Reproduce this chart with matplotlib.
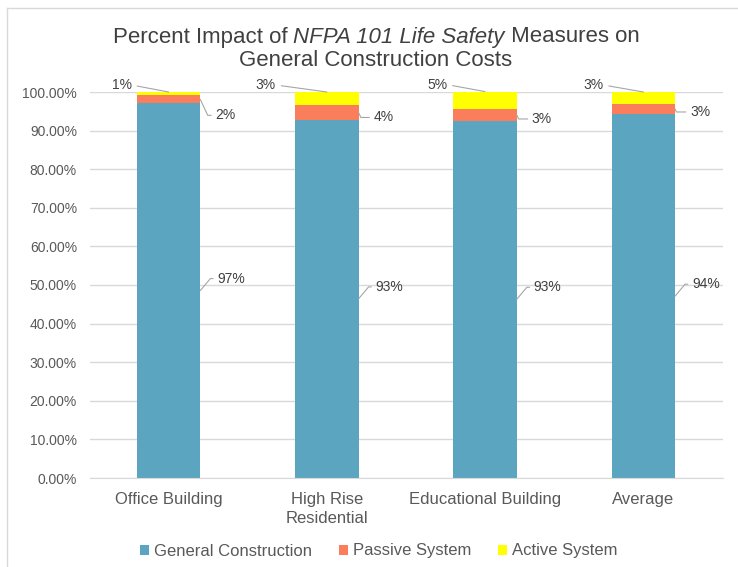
import matplotlib
matplotlib.use("Agg")
import matplotlib.pyplot as plt
from matplotlib.lines import Line2D
from matplotlib.patches import Patch
from matplotlib.ticker import PercentFormatter

# ---- data ----
categories = ["Office Building", "High Rise\nResidential", "Educational Building", "Average"]
general = [0.971, 0.928, 0.926, 0.942]
passive = [0.020, 0.038, 0.029, 0.028]
active = [0.009, 0.034, 0.046, 0.030]
series_names = ["General Construction", "Passive System", "Active System"]
yticks = [0.0, 0.1, 0.2, 0.3, 0.4, 0.5, 0.6, 0.7, 0.8, 0.9, 1.0]

# ---- style / layout ----
plt.rcParams['font.family'] = ['Liberation Sans', 'DejaVu Sans']
colors = ["#5BA5C0", "#FA7E5C", "#FFFF00"]
text_color = "#404040"
tick_color = "#595959"
grid_color = "#D9D9D9"
leader_color = "#A6A6A6"
bar_width = 0.4
passive_label_dy = [-16, -5, -4, -3]
active_label_dx = [-37, -51, -38, -40]

W, H = 738, 567
fig = plt.figure(figsize=(W / 100, H / 100), dpi=100)
ax = fig.add_axes([89.5 / W, 1 - 478 / H, (722.5 - 89.5) / W, 386 / H])

x = list(range(len(categories)))
bottom2 = [g + p for g, p in zip(general, passive)]
ax.bar(x, general, width=bar_width, color=colors[0], zorder=2)
ax.bar(x, passive, width=bar_width, bottom=general, color=colors[1], zorder=2)
ax.bar(x, active, width=bar_width, bottom=bottom2, color=colors[2], zorder=2)

ax.set_xlim(-0.5, len(categories) - 0.5)
ax.set_ylim(0, 1)
ax.set_yticks(yticks)
ax.yaxis.set_major_formatter(PercentFormatter(1.0, decimals=2))
ax.set_xticks(x)
ax.set_xticklabels(categories, fontsize=12, color=tick_color, linespacing=1.35)
ax.tick_params(axis='y', length=0, pad=9, labelsize=10, labelcolor=tick_color)
ax.tick_params(axis='x', length=0, pad=10)
ax.yaxis.grid(True, color=grid_color, lw=1, zorder=0)
ax.set_axisbelow(True)
for s in ['top', 'right', 'left']:
    ax.spines[s].set_visible(False)
ax.spines['bottom'].set_color(grid_color)

lbl_kw = dict(fontsize=10, color=text_color, textcoords='offset pixels', annotation_clip=False)

for i in range(len(categories)):
    # general construction label
    ax.annotate(f"{general[i]:.0%}", xy=(i + bar_width / 2, general[i] / 2), xytext=(17, 12),
                ha='left', va='center',
                arrowprops=dict(arrowstyle='-', color=leader_color, lw=0.8, shrinkA=1, shrinkB=0,
                                relpos=(0, 0.5), connectionstyle='angle,angleA=0,angleB=50,rad=0'),
                **lbl_kw)
    # passive label
    ax.annotate(f"{passive[i]:.0%}", xy=(i + bar_width / 2, general[i] + passive[i] / 2),
                xytext=(15, passive_label_dy[i]), ha='left', va='center',
                arrowprops=dict(arrowstyle='-', color=leader_color, lw=0.8, shrinkA=1, shrinkB=0,
                                relpos=(0, 0.5), connectionstyle='angle,angleA=0,angleB=-65,rad=0'),
                **lbl_kw)
    # active label
    ax.annotate(f"{active[i]:.0%}", xy=(i, bottom2[i] + active[i]), xytext=(active_label_dx[i], 7),
                ha='right', va='center',
                arrowprops=dict(arrowstyle='-', color=leader_color, lw=0.8, shrinkA=2, shrinkB=0,
                                relpos=(1, 0.5)),
                **lbl_kw)

# ---- title with mixed styles ----
title_size = 16
pieces = [("Percent Impact of ", 'normal'), ("NFPA 101 Life Safety", 'italic'), (" Measures on", 'normal')]
renderer = fig.canvas.get_renderer()
texts = []
for s, st in pieces:
    t = fig.text(0, 1 - 37 / H, s, fontsize=title_size, style=st, color=text_color, ha='left', va='center')
    texts.append(t)
widths = [t.get_window_extent(renderer).width for t in texts]
total = sum(widths)
cx = 376
xpos = cx - total / 2
for t, w in zip(texts, widths):
    t.set_x(xpos / W)
    xpos += w
fig.text(cx / W, 1 - 60.5 / H, "General Construction Costs", fontsize=title_size, color=text_color,
         ha='center', va='center')

# ---- legend ----
handles = [Patch(facecolor=c, edgecolor='none') for c in colors]
fig.legend(handles, series_names, loc='center', bbox_to_anchor=(379 / W, 1 - 551 / H), ncol=3,
           frameon=False, handlelength=0.55, handleheight=0.55, handletextpad=0.3,
           columnspacing=1.6, fontsize=12, labelcolor=tick_color)

# ---- chart area border (partially visible) ----
fig.add_artist(Line2D([7 / W, 1.0], [1 - 7.5 / H, 1 - 7.5 / H], color=grid_color, lw=1, transform=fig.transFigure))
fig.add_artist(Line2D([7 / W, 7 / W], [0, 1 - 7.5 / H], color=grid_color, lw=1, transform=fig.transFigure))

fig.savefig("out.png", dpi=100)
